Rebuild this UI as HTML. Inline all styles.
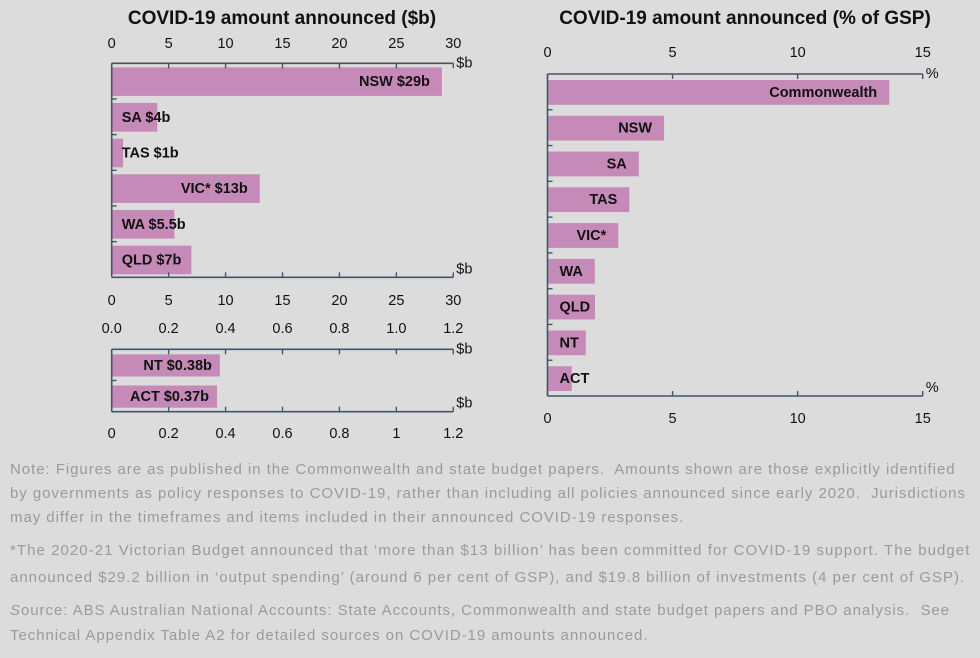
<!DOCTYPE html>
<html><head><meta charset="utf-8"><style>
body{margin:0;background:#dcdcdc;width:980px;height:658px;overflow:hidden;font-family:"Liberation Sans",sans-serif}
svg text{font-family:"Liberation Sans",sans-serif}
.note{position:absolute;left:10px;color:#9a9a9a;font-size:15px;letter-spacing:0.95px;line-height:24px;white-space:nowrap}
</style></head><body>
<svg id="c" width="980" height="445" style="position:absolute;left:0;top:0">
<text x="282" y="24" text-anchor="middle" font-size="19" font-weight="bold" fill="#111">COVID-19 amount announced ($b)</text>
<text x="745" y="24" text-anchor="middle" font-size="19" font-weight="bold" fill="#111">COVID-19 amount announced (% of GSP)</text>
</svg>
<div>
<div class="note" style="top:458px">Note: Figures are as published in the Commonwealth and state budget papers.&nbsp; Amounts shown are those explicitly identified</div>
<div class="note" style="top:482px">by governments as policy responses to COVID-19, rather than including all policies announced since early 2020.&nbsp; Jurisdictions</div>
<div class="note" style="top:506px">may differ in the timeframes and items included in their announced COVID-19 responses.</div>
<div class="note" style="top:539px;letter-spacing:1.05px">*The 2020-21 Victorian Budget announced that ‘more than $13 billion’ has been committed for COVID-19 support. The budget</div>
<div class="note" style="top:566px;letter-spacing:0.98px">announced $29.2 billion in ‘output spending’ (around 6 per cent of GSP), and $19.8 billion of investments (4 per cent of GSP).</div>
</div>
<div>
<div class="note" style="top:599px"><i>S</i>ource: ABS Australian National Accounts: State Accounts, Commonwealth and state budget papers and PBO analysis.&nbsp; See</div>
<div class="note" style="top:624px">Technical Appendix Table A2 for detailed sources on COVID-19 amounts announced.</div>
</div>
<script>
const catsA=["NSW $29b","SA $4b","TAS $1b","VIC* $13b","WA $5.5b","QLD $7b"];
const valsA=[29,4,1,13,5.5,7];
const ticksA=[0,5,10,15,20,25,30];
const catsB=["NT $0.38b","ACT $0.37b"];
const valsB=[0.38,0.37];
const ticksB=["0.0","0.2","0.4","0.6","0.8","1.0","1.2"];
const ticksBbottom=["0","0.2","0.4","0.6","0.8","1","1.2"];
const catsC=["Commonwealth","NSW","SA","TAS","VIC*","WA","QLD","NT","ACT"];
const valsC=[13.66,4.66,3.65,3.27,2.83,1.89,1.9,1.53,0.97];
const ticksC=[0,5,10,15];
const svg=document.getElementById('c');
const NS='http://www.w3.org/2000/svg';
const AX='#44546a';
function el(t,a){const e=document.createElementNS(NS,t);for(const k in a)e.setAttribute(k,a[k]);svg.appendChild(e);return e;}
function tx(x,y,s,anchor,size,bold){const e=el('text',{x:x,y:y,'text-anchor':anchor,'font-size':size,fill:'#111'});if(bold)e.setAttribute('font-weight','bold');e.textContent=s;return e;}
function panel(p){
  const sx=v=>p.x0+(v-p.min)/(p.max-p.min)*(p.x1-p.x0);
  const band=(p.y1-p.y0)/p.cats.length;
  p.cats.forEach((c,i)=>{
    const yb=p.y0+i*band;
    const r=el('rect',{x:p.x0,y:yb+p.pad,width:sx(p.vals[i])-p.x0,height:band-p.pad*2+1,fill:'#c68ab9'});
    
    
    const t=tx(0,yb+band/2+5,c,'end',14.5,true);
    const w=t.getComputedTextLength();
    const end=Math.max(p.x0+p.lpad+w,sx(p.vals[i])-p.rpad);
    t.setAttribute('x',end);
    
    
  });
  [p.y0,p.y1].forEach(y=>{const l=el('line',{x1:p.x0,y1:y,x2:p.x1,y2:y,stroke:AX,'stroke-width':1.6});});
  const ya=el('line',{x1:p.x0,y1:p.y0,x2:p.x0,y2:p.y1,stroke:AX,'stroke-width':1.6});
  
  for(let i=1;i<p.cats.length;i++){const y=p.y0+i*band;el('line',{x1:p.x0,y1:y,x2:p.x0+5,y2:y,stroke:AX,'stroke-width':1.4});}
  const n=p.ticks.length;
  p.ticks.forEach((t,i)=>{
    const v=p.min+i*(p.max-p.min)/(n-1);const x=sx(v);
    el('line',{x1:x,y1:p.y0,x2:x,y2:p.y0+5,stroke:AX,'stroke-width':1.4});
    el('line',{x1:x,y1:p.y1,x2:x,y2:p.y1-5,stroke:AX,'stroke-width':1.4});
    if(p.topY){const e=tx(x,p.topY,t,'middle',14.5);}
    const e=tx(x,p.botY,(p.bticks||p.ticks)[i],'middle',14.5);
    
  });
  if(p.unitTop){const u=tx(p.x1+3,p.y0+4,p.unit,'start',14.5);}
  const u2=tx(p.x1+3,p.y1-4,p.unit,'start',14.5);
}
panel({cats:catsA,vals:valsA,ticks:ticksA,min:0,max:30,x0:111.7,x1:453.3,y0:63.3,y1:277.3,pad:4,lpad:10,rpad:12,topY:48,botY:305,unit:'$b',unitTop:true});
panel({cats:catsB,vals:valsB,ticks:ticksB,bticks:ticksBbottom,min:0,max:1.2,x0:111.7,x1:453.3,y0:349.3,y1:411.7,pad:5,lpad:10,rpad:8,topY:333,botY:438,unit:'$b',unitTop:true});
panel({cats:catsC,vals:valsC,ticks:ticksC,min:0,max:15,x0:547.5,x1:922.7,y0:74,y1:396,pad:6,lpad:12,rpad:12,topY:57,botY:423,unit:'%',unitTop:true});
</script>
</body></html>
